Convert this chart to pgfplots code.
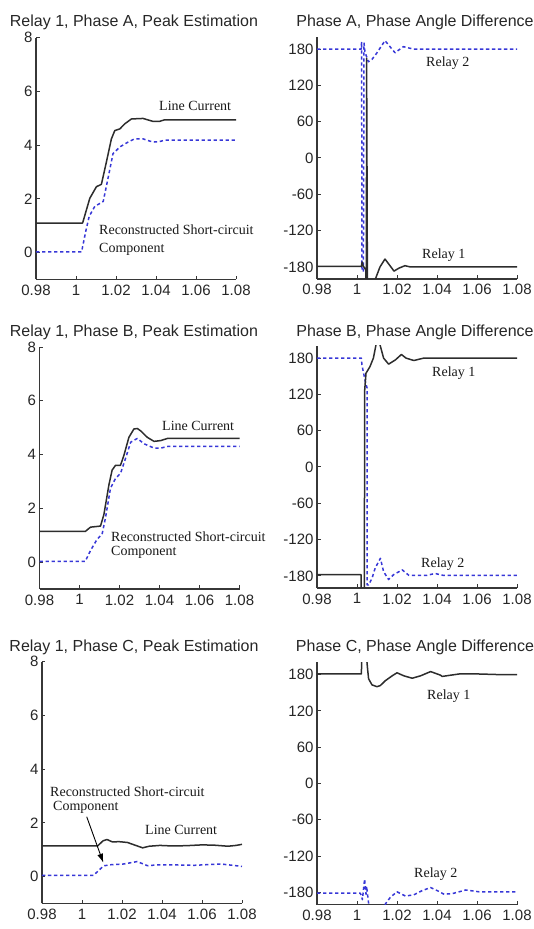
\documentclass[border=0pt]{standalone}
\usepackage{fontspec}
\setmainfont{Liberation Sans}
\newfontfamily\annfont{Liberation Serif}
\usepackage{pgfplots}
\pgfplotsset{compat=1.18}
\usetikzlibrary{arrows.meta}

\definecolor{axgray}{RGB}{55,55,55}
\definecolor{curv}{RGB}{45,45,45}
\definecolor{rblue}{RGB}{55,55,215}

\pgfplotsset{
  panel/.style={
    scale only axis, width=200pt, height=242pt,
    anchor=south west,
    axis lines=left,
    axis line style={-, line width=1.6pt, axgray},
    tick align=inside,
    major tick length=3.5pt,
    tick style={axgray, line width=1pt},
    xmin=0.98, xmax=1.08,
    xtick={0.98,1,1.02,1.04,1.06,1.08},
    xticklabels={0.98,1,1.02,1.04,1.06,1.08},
    ticklabel style={font=\fontsize{15}{15}\selectfont, text=black!85},
    xticklabel style={yshift=-2pt},
  },
  peak/.style={panel, ymin=-1, ymax=8, ytick={0,2,4,6,8}, yticklabels={0,2,4,6,8}},
  angle/.style={panel, ymin=-200, ymax=200,
    ytick={-180,-120,-60,0,60,120,180},
    yticklabels={-180,-120,-60,0,60,120,180}},
  lc/.style={curv, line width=1.5pt, line join=round},
  sc/.style={rblue, line width=1.5pt, dash pattern=on 3.3pt off 2.7pt, line join=round},
}

\begin{document}
\begin{tikzpicture}
\path[use as bounding box] (0,0) rectangle (534pt,929pt);

% ---------- row A ----------
\begin{axis}[peak, at={(36pt,649.5pt)}]
\addplot[lc] coordinates {(0.98,1.1) (1.0033,1.1) (1.0069,2.02) (1.0102,2.45) (1.0127,2.54) (1.0152,3.37) (1.0177,4.23) (1.0194,4.54) (1.0219,4.6) (1.0244,4.79) (1.0277,4.97) (1.0335,4.99) (1.0385,4.88) (1.0418,4.88) (1.0443,4.94) (1.08,4.94)};
\addplot[sc] coordinates {(0.98,0.03) (1.0028,0.03) (1.0049,0.8) (1.0066,1.35) (1.0094,1.72) (1.0136,1.9) (1.016,2.76) (1.0185,3.68) (1.0219,3.93) (1.026,4.11) (1.0293,4.23) (1.0335,4.23) (1.0385,4.11) (1.0418,4.13) (1.0443,4.18) (1.08,4.18)};
\end{axis}

\begin{axis}[angle, at={(317pt,650pt)}]
\addplot[sc] coordinates {(0.98,180) (1.0021,180) (1.0023,192) (1.0025,-185) (1.0032,-188) (1.0035,190) (1.0040,175) (1.0057,159) (1.0075,163) (1.0098,173) (1.0140,194) (1.0190,174) (1.0232,184) (1.0282,180) (1.08,180)};
\addplot[lc] coordinates {(0.98,-179) (1.0022,-179) (1.0026,-172) (1.0030,-178) (1.0044,-185) (1.0046,-215) (1.0047,-215) (1.0048,165) (1.0050,-15) (1.0052,-215) (1.0085,-215) (1.0092,-200) (1.0115,-180) (1.0140,-167) (1.0165,-178) (1.0185,-187) (1.0210,-182) (1.0240,-178) (1.0265,-180) (1.08,-180)};
\end{axis}

% ---------- row B ----------
\begin{axis}[peak, at={(39.5pt,340pt)}]
\addplot[lc] coordinates {(0.98,1.14) (1.0029,1.14) (1.0055,1.3) (1.0105,1.34) (1.0122,1.77) (1.0147,2.87) (1.0163,3.42) (1.018,3.6) (1.0205,3.6) (1.0222,3.97) (1.0247,4.64) (1.0272,4.95) (1.0289,4.97) (1.0306,4.88) (1.0339,4.64) (1.0373,4.49) (1.0406,4.52) (1.044,4.6) (1.08,4.6)};
\addplot[sc] coordinates {(0.98,0.03) (1.0029,0.03) (1.0055,0.43) (1.0088,0.85) (1.0113,1.04) (1.013,1.65) (1.0155,2.75) (1.018,3.11) (1.0205,3.3) (1.023,3.85) (1.0256,4.46) (1.0289,4.6) (1.0323,4.4) (1.0373,4.24) (1.0406,4.24) (1.044,4.3) (1.08,4.3)};
\end{axis}

\begin{axis}[angle, at={(317pt,341pt)}]
\addplot[sc] coordinates {(0.98,180) (1.0022,180) (1.00245,169) (1.0041,142) (1.005,131) (1.0051,-195) (1.0058,-195) (1.0075,-184) (1.0091,-167) (1.0117,-151) (1.0133,-173) (1.0158,-186) (1.0183,-178) (1.0226,-170) (1.0259,-179) (1.035,-179) (1.039,-176) (1.043,-179) (1.08,-179)};
\addplot[lc] coordinates {(0.98,-178) (1.0020,-178) (1.0021,-215) (1.0037,-215) (1.0038,125) (1.0045,155) (1.0065,166) (1.0082,180) (1.0095,202) (1.0105,215) (1.0115,202) (1.0133,180) (1.0158,170) (1.0192,177) (1.0222,186) (1.0245,180) (1.0284,176) (1.0334,180) (1.08,180)};
\end{axis}

% ---------- row C ----------
\begin{axis}[peak, at={(42pt,25.5pt)}]
\addplot[lc] coordinates {(0.98,1.14) (1.0078,1.14) (1.0105,1.33) (1.0125,1.38) (1.0152,1.29) (1.0185,1.3) (1.0227,1.27) (1.0265,1.17) (1.0303,1.07) (1.0336,1.13) (1.039,1.16) (1.045,1.14) (1.052,1.15) (1.06,1.18) (1.066,1.17) (1.073,1.13) (1.077,1.16) (1.08,1.2)};
\addplot[sc] coordinates {(0.98,0.05) (1.0058,0.05) (1.0108,0.4) (1.0142,0.44) (1.0209,0.47) (1.0276,0.56) (1.0326,0.41) (1.0393,0.44) (1.05,0.43) (1.056,0.42) (1.0694,0.47) (1.08,0.38)};
\end{axis}

\begin{axis}[angle, at={(317pt,24.5pt)}]
\addplot[lc] coordinates {(0.98,181) (1.0022,181) (1.0024,215) (1.0048,215) (1.0050,200) (1.0053,189) (1.0058,173) (1.0075,163) (1.0100,160) (1.0117,162) (1.0142,170) (1.0176,178) (1.0200,183) (1.0234,178) (1.0276,174) (1.0318,178) (1.0368,185) (1.0418,179) (1.0426,177) (1.051,181) (1.061,181) (1.0711,180) (1.08,180)};
\addplot[sc] coordinates {(0.98,-181) (1.0015,-181) (1.0022,-185) (1.0027,-192) (1.0038,-158) (1.0045,-183) (1.0048,-170) (1.0058,-198) (1.0065,-215) (1.0135,-215) (1.0142,-199) (1.0167,-188) (1.02,-179) (1.0242,-186) (1.0284,-184) (1.0326,-177) (1.0368,-172) (1.0401,-177) (1.0435,-183) (1.0477,-182) (1.0544,-176) (1.061,-179) (1.08,-179)};
\end{axis}

% ---------- titles ----------
\begin{scope}[every node/.style={font=\fontsize{16}{16}\selectfont, anchor=base, inner sep=0pt, text=black!85}]
\node at (134pt,902pt) {Relay 1, Phase A, Peak Estimation};
\node at (415pt,902pt) {Phase A, Phase Angle Difference};
\node at (134pt,592pt) {Relay 1, Phase B, Peak Estimation};
\node at (415pt,592pt) {Phase B, Phase Angle Difference};
\node at (134pt,277pt) {Relay 1, Phase C, Peak Estimation};
\node at (415pt,277pt) {Phase C, Phase Angle Difference};
\end{scope}

% ---------- annotations ----------
\begin{scope}[every node/.style={font=\annfont\fontsize{14}{14}\selectfont, anchor=base west, inner sep=0pt, text=black!90}]
\node at (159pt,818pt) {Line Current};
\node at (99pt,694pt) {Reconstructed Short-circuit};
\node at (99pt,676pt) {Component};
\node at (426pt,862pt) {Relay 2};
\node at (422pt,670pt) {Relay 1};
\node at (162pt,498pt) {Line Current};
\node at (111pt,387pt) {Reconstructed Short-circuit};
\node at (111pt,373pt) {Component};
\node at (432pt,552pt) {Relay 1};
\node at (421pt,361pt) {Relay 2};
\node at (50pt,132pt) {Reconstructed Short-circuit};
\node at (53pt,118pt) {Component};
\node at (145pt,94pt) {Line Current};
\node at (427pt,229pt) {Relay 1};
\node at (414pt,51pt) {Relay 2};
\end{scope}
\draw[black, line width=0.9pt, -{Latex[length=9pt,width=6pt]}] (86.7pt,112.3pt) -- (103.3pt,66.3pt);
\end{tikzpicture}
\end{document}
